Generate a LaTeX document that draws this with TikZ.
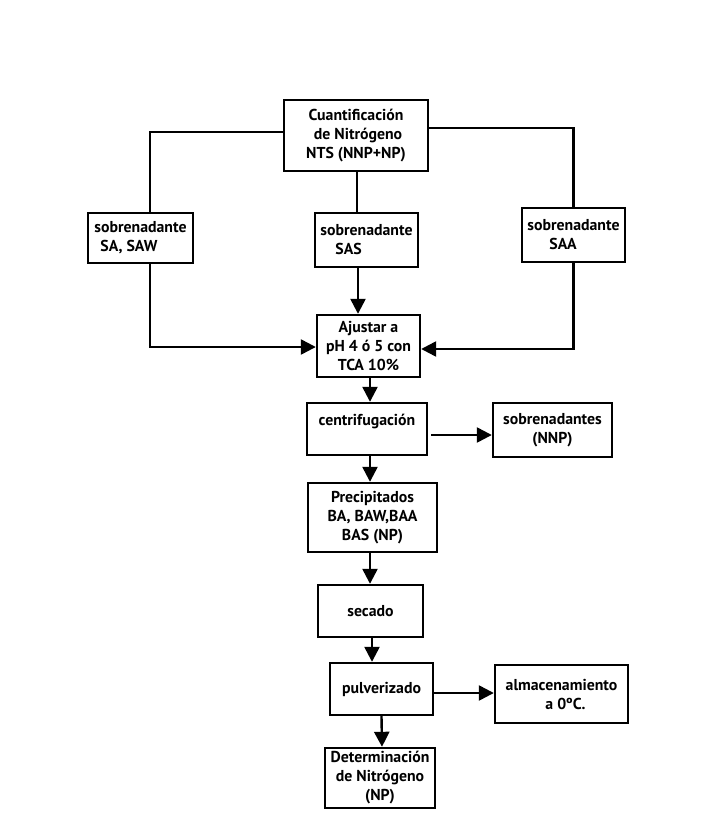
\documentclass[tikz,border=0pt]{standalone}
\usepackage{fontspec}
\setmainfont{PT Sans}
\usetikzlibrary{arrows.meta}
\tikzset{
  box/.style={draw, line width=2.4pt, inner sep=0pt, align=center, font=\bfseries\fontsize{15.8}{19}\selectfont},
  conn/.style={line width=2.4pt},
  arr/.style={line width=2.4pt, -{Triangle[length=15pt,width=15pt]}}
}
\begin{document}
\begin{tikzpicture}[x=1pt,y=-1pt]
\useasboundingbox (0,0) rectangle (711,832);
\node[box, minimum width=144pt, minimum height=71pt] (cuant) at (356,135.5) {Cuantificación\\\ de Nitrógeno\\NTS (NNP+NP)};
\node[box, minimum width=105pt, minimum height=50pt, align=left] (sa) at (140.5,238) {sobrenadante\\\hspace{6pt}SA, SAW};
\node[box, minimum width=103pt, minimum height=54pt, align=left] (sas) at (366.5,240) {sobrenadante\\\hspace{15pt}SAS};
\node[box, minimum width=103pt, minimum height=54pt, align=left] (saa) at (573.5,235) {sobrenadante\\\hspace{22pt}SAA};
\node[box, minimum width=103pt, minimum height=62pt] (aj) at (368.5,346) {Ajustar a\\pH 4 ó 5 con\\TCA 10\%};
\node[box, minimum width=120pt, minimum height=52pt] (cen) at (367,429) {centrifugación\\\mbox{}};
\node[box, minimum width=119pt, minimum height=54pt] (sob) at (552.5,430) {sobrenadantes\\(NNP)};
\node[box, minimum width=129pt, minimum height=69pt] (pre) at (372.5,517.5) {Precipitados\\BA, BAW,BAA\\BAS (NP)};
\node[box, minimum width=105pt, minimum height=52pt] (sec) at (370.5,611) {secado};
\node[box, minimum width=103pt, minimum height=52pt] (pul) at (381.5,689) {pulverizado};
\node[box, minimum width=133pt, minimum height=58pt] (alm) at (561.5,694) {almacenamiento\\\ \ a 0ºC.};
\node[box, minimum width=110pt, minimum height=60pt] (det) at (380,778) {Determinación\\de Nitrógeno\\(NP)};
% top branches
\draw[conn] ([yshift=3.5pt]cuant.west) -| ([xshift=9.5pt]sa.north);
\draw[conn] ([yshift=7.5pt]cuant.east) -| (saa.north);
\draw[conn] ([xshift=1pt]cuant.south) -- ([xshift=-9.5pt]sas.north);
% into Ajustar
\draw[arr] ([xshift=9.5pt]sa.south) |- ([yshift=-1pt]aj.west);
\draw[arr] (saa.south) |- ([yshift=-3pt]aj.east);
\draw[arr] ([xshift=-8.5pt]sas.south) -- ([xshift=-10.5pt]aj.north);
% main chain
\draw[arr] ([xshift=1.5pt]aj.south) -- ([xshift=3pt]cen.north);
\draw[arr] ([xshift=3pt,yshift=-6pt]cen.east) -- ([yshift=-6pt]cen.east -| sob.west);
\draw[arr] ([xshift=3pt]cen.south) -- ([xshift=-2.5pt]pre.north);
\draw[arr] ([xshift=-2.5pt]pre.south) -- ([xshift=-0.5pt]sec.north);
\draw[arr] ([xshift=1.5pt]sec.south) -- ([xshift=-9.5pt]pul.north);
\draw[arr] ([yshift=-4pt]pul.east) -- ([yshift=-4pt]pul.east -| alm.west);
\draw[arr] (pul.south) -- ([xshift=2pt]det.north);
\end{tikzpicture}
\end{document}
